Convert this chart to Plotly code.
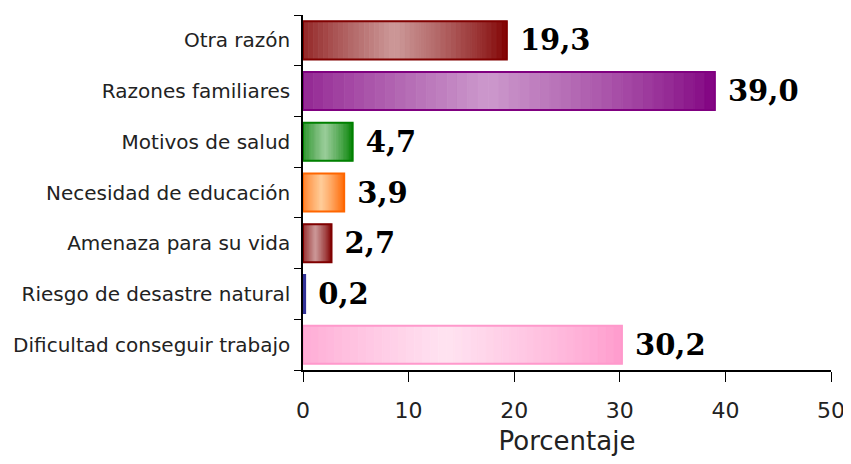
import plotly.graph_objects as go

categorias = ['Dificultad conseguir trabajo', 'Riesgo de desastre natural', 'Amenaza para su vida',
              'Necesidad de educación', 'Motivos de salud', 'Razones familiares', 'Otra razón']
valores = [30.2, 0.2, 2.7, 3.9, 4.7, 39.0, 19.3]
etiquetas = ['30,2', '0,2', '2,7', '3,9', '4,7', '39,0', '19,3']
# (borde/oscuro, claro)
colores = [('#ff99cc', '#ffe3f1'), ('#333399', '#9999cc'), ('#800000', '#cc9999'),
           ('#ff6600', '#ffcc99'), ('#008000', '#99cc99'), ('#800080', '#cc99cc'), ('#800000', '#cc9999')]

N = 40

def hex2rgb(h):
    return [int(h[i:i + 2], 16) for i in (1, 3, 5)]

def mezcla(c1, c2, t):
    a, b = hex2rgb(c1), hex2rgb(c2)
    return 'rgb(%d,%d,%d)' % tuple(round(a[k] + (b[k] - a[k]) * t) for k in range(3))

fig = go.Figure()
# degradado tipo cilindro: oscuro en los bordes, claro cerca del centro
for i in range(N):
    pos = (i + 0.5) / N
    t = 1 - abs(pos - 0.45) / 0.55
    t = max(0, min(1, t)) ** 0.8
    cols = [mezcla(c[0], c[1], t) for c in colores]
    fig.add_trace(go.Bar(
        y=categorias,
        x=[v / N for v in valores],
        base=[v * i / N for v in valores],
        orientation='h',
        width=0.75,
        marker=dict(color=cols, line=dict(width=0.8, color=cols)),
        hoverinfo='skip',
        showlegend=False,
    ))

fig.add_trace(go.Bar(
    y=categorias,
    x=valores,
    orientation='h',
    width=0.75,
    marker=dict(color='rgba(0,0,0,0)', line=dict(color=[c[0] for c in colores], width=2)),
    text=['\u00a0' + e for e in etiquetas],
    textposition='outside',
    cliponaxis=False,
    textfont=dict(family='DejaVu Serif', size=29, color='black', weight='bold'),
    showlegend=False,
))

fig.update_layout(
    barmode='overlay',
    width=843, height=448,
    paper_bgcolor='white', plot_bgcolor='white',
    margin=dict(l=295, r=20, t=7, b=86),
    font=dict(family='DejaVu Sans', color='#222222'),
    xaxis=dict(range=[0, 50], dtick=10, showline=True, linecolor='black', linewidth=1.5,
               ticks='outside', ticklen=10, tickcolor='black', showgrid=False, zeroline=False,
               tickfont=dict(size=22), ticklabelstandoff=10, automargin=False,
               title=dict(text='Porcentaje', font=dict(size=26), standoff=20)),
    yaxis=dict(range=[-0.5, 6.5], showline=True, linecolor='black', linewidth=1.5,
               ticks='outside', ticklen=7, tickcolor='black', tickson='boundaries',
               showgrid=False, tickfont=dict(size=20), ticklabelstandoff=7, automargin=False),
)

fig.write_html('out.html')
